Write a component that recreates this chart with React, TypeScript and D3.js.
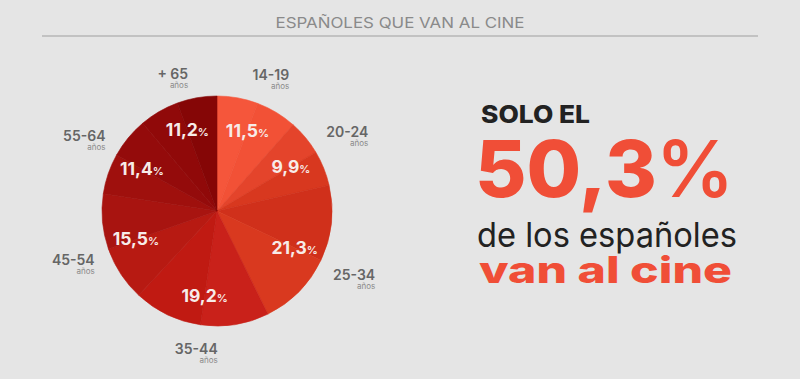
import React from "react";
import * as d3 from "d3";

const title = "ESPAÑOLES QUE VAN AL CINE";
const ageGroups = ["14-19", "20-24", "25-34", "35-44", "45-54", "55-64", "+ 65"];
const shares = [11.5, 9.9, 21.3, 19.2, 15.5, 11.4, 11.2];
const unitLabel = "años";
const toneA = ["#f5563b", "#e4442b", "#d0301b", "#c9211a", "#b71a12", "#9f100d", "#900909"];
const toneB = ["#f25136", "#d8381f", "#d9391f", "#c01a12", "#a81410", "#940b0b", "#850606"];
const headline = ["SOLO EL", "50,3", "%", "de los españoles", "van al cine"];

const W = 800;
const H = 379;
const cx = 217;
const cy = 211;
const R = 115;
const FONT = "Inter, 'Open Sans', 'DejaVu Sans', sans-serif";

const fmt = (v: number) => v.toFixed(1).replace(".", ",");

export default function App() {
  const pie = d3.pie<number>().sort(null).value((d) => d);
  const arcs = pie(shares);
  const arcGen = d3.arc<any>().innerRadius(0).outerRadius(R);
  const labelArc = d3.arc<any>().innerRadius(86).outerRadius(86);

  const outer = arcs.map((a, i) => {
    const mid = (a.startAngle + a.endAngle) / 2;
    const s = Math.sin(mid);
    const c = -Math.cos(mid);
    const hw = 21;
    const hh = 9;
    const edge = 129;
    const rr = edge + hw * Math.abs(s) + hh * Math.abs(c);
    return { x: cx + rr * s, y: cy + rr * c, label: ageGroups[i] };
  });

  return (
    <svg
      width={W}
      height={H}
      viewBox={`0 0 ${W} ${H}`}
      style={{ position: "absolute", left: 0, top: 0, display: "block" }}
    >
      <rect x={0} y={0} width={W} height={H} fill="#e5e5e5" />
      <text
        x={400}
        y={28}
        textAnchor="middle"
        fontFamily={FONT}
        fontSize={15}
        fontWeight={400}
        fill="#8a8a8a"
        textLength={249}
        lengthAdjust="spacingAndGlyphs"
      >
        {title}
      </text>
      <line x1={42} x2={758} y1={36} y2={36} stroke="#c2c2c2" strokeWidth={2} />

      <g transform={`translate(${cx},${cy})`}>
        {arcs.map((a, i) => {
          const m = a.startAngle + (a.endAngle - a.startAngle) * 0.5;
          return (
            <g key={i}>
              <path
                d={arcGen({ ...a, endAngle: m }) as string}
                fill={toneA[i]}
                stroke={toneA[i]}
                strokeWidth={0.6}
              />
              <path
                d={arcGen({ ...a, startAngle: m }) as string}
                fill={toneB[i]}
                stroke={toneB[i]}
                strokeWidth={0.6}
              />
            </g>
          );
        })}
        {arcs.map((a, i) => {
          const [x, y] = labelArc.centroid(a);
          return (
            <text
              key={"v" + i}
              x={x}
              y={y + 6}
              textAnchor="middle"
              fontFamily={FONT}
              fill="#f7ece9"
            >
              <tspan fontSize={17.5} fontWeight={700}>{fmt(shares[i])}</tspan>
              <tspan fontSize={11} fontWeight={600}>%</tspan>
            </text>
          );
        })}
      </g>

      {outer.map((o, i) => (
        <g key={"o" + i}>
          <text
            x={o.x + 21}
            y={o.y + 4}
            textAnchor="end"
            fontFamily={FONT}
            fontSize={14}
            fontWeight={600}
            fill="#666"
          >
            {o.label}
          </text>
          <text
            x={o.x + 21}
            y={o.y + 13}
            textAnchor="end"
            fontFamily={FONT}
            fontSize={8}
            fontWeight={400}
            fill="#8a8a8a"
          >
            {unitLabel}
          </text>
        </g>
      ))}

      <text
        x={481}
        y={123}
        fontFamily={FONT}
        fontSize={24}
        fontWeight={800}
        fill="#222"
        textLength={109}
        lengthAdjust="spacingAndGlyphs"
      >
        {headline[0]}
      </text>
      <text
        x={475}
        y={197}
        fontFamily={FONT}
        fontSize={78}
        fontWeight={800}
        fill="#f04e37"
        textLength={182}
        lengthAdjust="spacingAndGlyphs"
      >
        {headline[1]}
      </text>
      <text
        x={656}
        y={197}
        fontFamily={FONT}
        fontSize={78}
        fontWeight={600}
        fill="#f04e37"
        textLength={78}
        lengthAdjust="spacingAndGlyphs"
      >
        {headline[2]}
      </text>
      <text
        x={477}
        y={247}
        fontFamily={FONT}
        fontSize={34}
        fontWeight={400}
        fill="#222"
        textLength={260}
        lengthAdjust="spacingAndGlyphs"
      >
        {headline[3]}
      </text>
      <text
        x={479}
        y={283}
        fontFamily={FONT}
        fontSize={37}
        fontWeight={800}
        fill="#f04e37"
        textLength={253}
        lengthAdjust="spacingAndGlyphs"
      >
        {headline[4]}
      </text>
    </svg>
  );
}
